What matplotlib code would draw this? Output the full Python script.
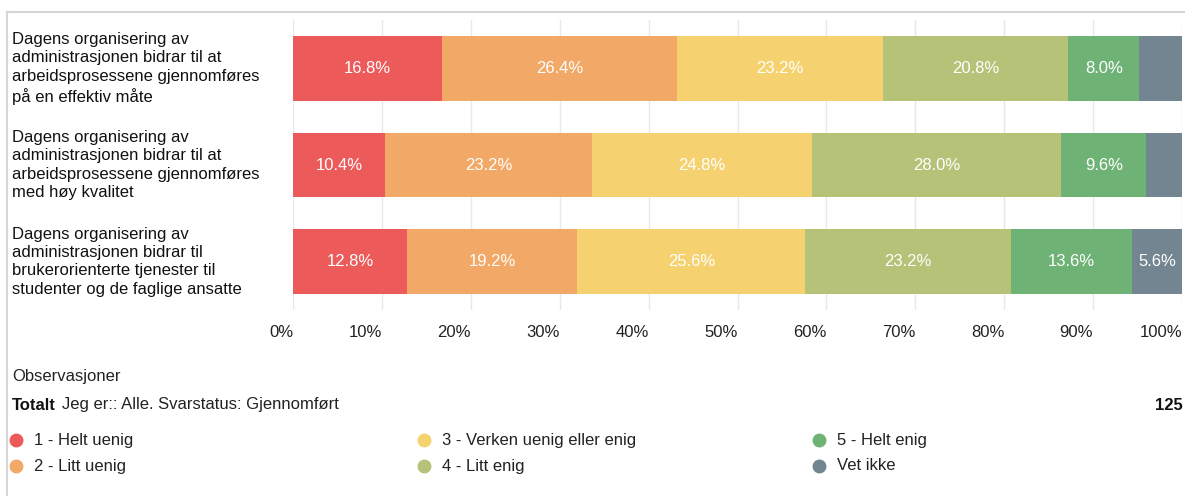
import matplotlib.pyplot as plt
import matplotlib.transforms as mtransforms
from matplotlib.lines import Line2D

plt.rcParams["font.family"] = ["Liberation Sans", "DejaVu Sans"]

# data
questions = [
    "Dagens organisering av\nadministrasjonen bidrar til at\narbeidsprosessene gjennomføres\npå en effektiv måte",
    "Dagens organisering av\nadministrasjonen bidrar til at\narbeidsprosessene gjennomføres\nmed høy kvalitet",
    "Dagens organisering av\nadministrasjonen bidrar til\nbrukerorienterte tjenester til\nstudenter og de faglige ansatte",
]
categories = ["1 - Helt uenig", "2 - Litt uenig", "3 - Verken uenig eller enig",
              "4 - Litt enig", "5 - Helt enig", "Vet ikke"]
colors = ["#EC5A5A", "#F2A866", "#F5D26F", "#B5C277", "#6EB375", "#728590"]
helt_uenig = [16.8, 10.4, 12.8]
litt_uenig = [26.4, 23.2, 19.2]
verken = [23.2, 24.8, 25.6]
litt_enig = [20.8, 28.0, 23.2]
helt_enig = [8.0, 9.6, 13.6]
vet_ikke = [4.8, 4.0, 5.6]
series = [helt_uenig, litt_uenig, verken, litt_enig, helt_enig, vet_ikke]
xticks = list(range(0, 101, 10))
total_n = 125

W, H = 1185, 496
fig = plt.figure(figsize=(W / 100, H / 100), dpi=100)
ax = fig.add_axes([293 / W, 1 - 310 / H, (1182 - 293) / W, 290 / H])

ypos = list(range(len(questions)))
left = [0.0] * len(questions)
for vals, col in zip(series, colors):
    ax.barh(ypos, vals, left=left, height=0.67, color=col, zorder=2)
    for y, v, l in zip(ypos, vals, left):
        if v >= 5:
            ax.text(l + v / 2, y, f"{v:.1f}%", ha="center", va="center",
                    color="white", fontsize=12, zorder=3)
    left = [l + v for l, v in zip(left, vals)]

ax.set_xlim(0, 100)
ax.set_ylim(2.5, -0.5)
ax.set_xticks(xticks)
ax.set_xticklabels([f"{t}%" for t in xticks], ha="right", fontsize=12, color="#222222")
ax.tick_params(axis="x", length=0, pad=11)
ax.set_yticks([])
for s in ax.spines.values():
    s.set_visible(False)
ax.grid(axis="x", color="#e8e8e8", linewidth=1, zorder=0)

trans = mtransforms.blended_transform_factory(fig.transFigure, ax.transData)
for y, q in zip(ypos, questions):
    ax.text(12 / W, y, q, transform=trans, ha="left", va="center",
            fontsize=12, linespacing=1.28, color="#111111")

# frame lines
fig.add_artist(Line2D([7 / W, 1], [1 - 12 / H, 1 - 12 / H], color="#d6d6d6", lw=1.5))
fig.add_artist(Line2D([7 / W, 7 / W], [0, 1 - 12 / H], color="#d6d6d6", lw=1.5))

fig.text(12 / W, 1 - 376 / H, "Observasjoner", fontsize=12, va="center", color="#222222")
fig.text(12 / W, 1 - 405 / H, "Totalt", fontsize=12, va="center", weight="bold", color="#111111")
fig.text(62 / W, 1 - 405 / H, "Jeg er:: Alle. Svarstatus: Gjennomført", fontsize=12,
         va="center", color="#222222")
fig.text(1183 / W, 1 - 405 / H, str(total_n), fontsize=12, va="center", ha="right",
         weight="bold", color="#111111")

col_x = [16, 424, 819]
row_y = [440, 466]
for i, (lab, col) in enumerate(zip(categories, colors)):
    cx = col_x[i // 2]
    cy = row_y[i % 2]
    fig.add_artist(Line2D([cx / W], [1 - cy / H], marker="o", markersize=9,
                          color=col, linestyle="none"))
    fig.text((cx + 18) / W, 1 - cy / H, lab, fontsize=12, va="center", color="#222222")

fig.savefig("out.png", dpi=100)
